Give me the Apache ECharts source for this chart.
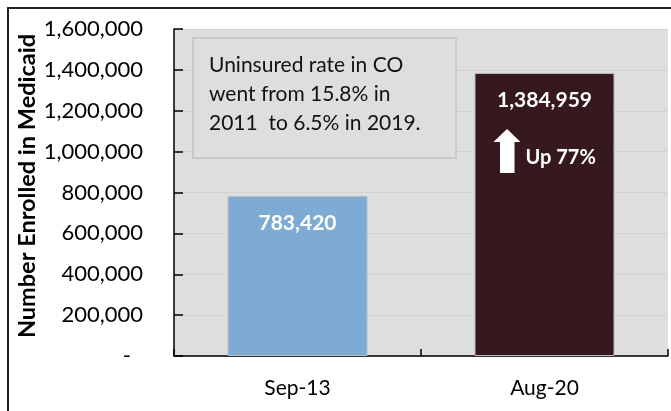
<!DOCTYPE html>
<html>
<head>
<meta charset="utf-8">
<script src="https://cdn.jsdelivr.net/npm/echarts@6/dist/echarts.min.js"></script>
<style>
html,body{margin:0;padding:0;background:#fff;overflow:hidden;}
#chart{width:671px;height:411px;}
</style>
</head>
<body>
<div id="chart"></div>
<script>
var categories = ['Sep-13', 'Aug-20'];
var enrolled = [783420, 1384959];
var barColors = ['#7eabd4', '#36191c'];
var yTicks = { min: 0, max: 1600000, interval: 200000 };
var axisTitle = 'Number Enrolled in Medicaid';
var noteLines = ['Uninsured rate in CO', 'went from 15.8% in', '2011  to 6.5% in 2019.'];
var changeLabel = 'Up 77%';

(function () {
var FONT = 'Lato';
var chart = echarts.init(document.getElementById('chart'), null, {renderer: 'canvas'});

var option = {
  animation: false,
  backgroundColor: '#ffffff',
  grid: {
    left: 174, top: 29, width: 494, height: 327,
    show: true, backgroundColor: '#dedede', borderWidth: 0
  },
  xAxis: {
    type: 'category',
    data: categories,
    axisLine: { show: true, lineStyle: { color: '#000', width: 1.5 } },
    axisTick: { show: true, inside: true, length: 7, lineStyle: { color: '#000', width: 1.5 } },
    axisLabel: { fontFamily: FONT, fontSize: 21, color: '#000', margin: 22, lineHeight: 21 },
    splitLine: { show: false }
  },
  yAxis: {
    type: 'value',
    min: yTicks.min, max: yTicks.max, interval: yTicks.interval,
    name: axisTitle,
    nameLocation: 'middle',
    nameGap: 135,
    nameMoveOverlap: false,
    nameTextStyle: { fontFamily: FONT, fontSize: 23.5, fontWeight: 'bold', color: '#000', padding: [0, 0, 0, 13] },
    axisLine: { show: true, lineStyle: { color: '#000', width: 1.5 } },
    axisTick: { show: true, inside: true, length: 9, lineStyle: { color: '#000', width: 1.5 } },
    axisLabel: {
      fontFamily: FONT, fontSize: 22, color: '#000', margin: 31,
      formatter: function (v) {
        if (v === 0) return '{z|-}';
        return v.toLocaleString('en-US');
      },
      rich: { z: { fontFamily: FONT, fontSize: 22, color: '#000', padding: [0, 12, 0, 0] } }
    },
    splitLine: { show: true, lineStyle: { color: '#d2d2d2', width: 1 } }
  },
  series: [{
    type: 'bar',
    barWidth: 140,
    data: enrolled.map(function (v, i) {
      return { value: v, itemStyle: { color: barColors[i], borderColor: '#bdbdbd', borderWidth: 1 } };
    }),
    label: {
      show: true, position: 'insideTop', distance: 17,
      fontFamily: FONT, fontSize: 21, fontWeight: 'bold', color: '#fff',
      formatter: function (p) { return p.value.toLocaleString('en-US'); }
    }
  }]
};
chart.setOption(option);

var p = chart.convertToPixel({ xAxisIndex: 0, yAxisIndex: 0 }, [categories[1], enrolled[1]]);
var ax = p[0] - 37.5, ay = p[1] + 56;
chart.setOption({
  graphic: [
    {
      type: 'line', z: 100, silent: true,
      shape: { x1: 8, y1: 7, x2: 8, y2: 411 },
      style: { stroke: '#222', lineWidth: 2 }
    },
    {
      type: 'line', z: 100, silent: true,
      shape: { x1: 7, y1: 8, x2: 671, y2: 8 },
      style: { stroke: '#222', lineWidth: 2 }
    },
    {
      type: 'rect', z: 100,
      shape: { x: 193, y: 38, width: 263, height: 120 },
      style: { fill: '#dedede', stroke: '#c2c2c2', lineWidth: 1.5 }
    },
    {
      type: 'text', z: 101,
      x: 209, y: 50.5,
      style: {
        text: noteLines.join('\n'),
        font: '21px ' + FONT, fill: '#111', lineHeight: 29,
        verticalAlign: 'top', align: 'left'
      }
    },
    {
      type: 'polygon', z: 101,
      shape: { points: [
        [ax, ay], [ax - 13.5, ay + 13], [ax - 7, ay + 13], [ax - 7, ay + 44],
        [ax + 7.5, ay + 44], [ax + 7.5, ay + 13], [ax + 13.5, ay + 13]
      ] },
      style: { fill: '#fff' }
    },
    {
      type: 'text', z: 101,
      x: ax + 18.5, y: ay + 29,
      style: {
        text: changeLabel, font: 'bold 20px ' + FONT, fill: '#fff',
        verticalAlign: 'middle', align: 'left'
      }
    }
  ]
});
})();
</script>
</body>
</html>
